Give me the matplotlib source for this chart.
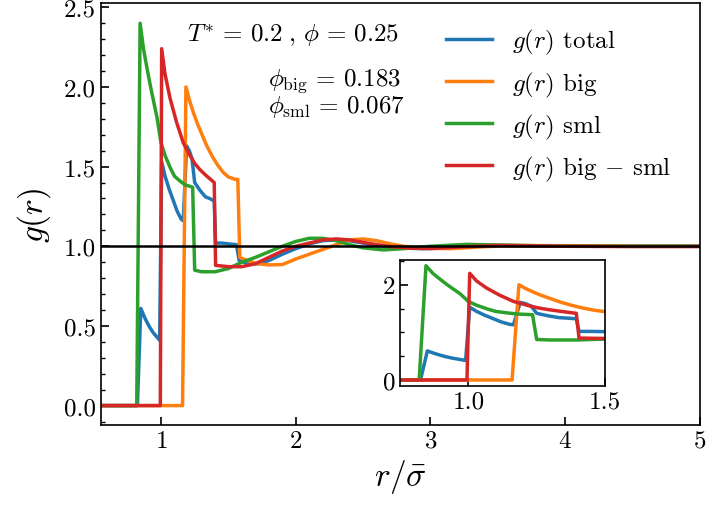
import matplotlib
matplotlib.use('Agg')
import matplotlib.pyplot as plt
from matplotlib.ticker import MultipleLocator, FormatStrFormatter

plt.rcParams['font.family'] = 'serif'
plt.rcParams['font.serif'] = ['cmr10']
plt.rcParams['mathtext.fontset'] = 'cm'
plt.rcParams['axes.formatter.use_mathtext'] = True

# g(r) curves
r_total = [0.55, 0.825, 0.85, 0.88, 0.91, 0.94, 0.97, 0.99, 1.005, 1.03, 1.06, 1.09, 1.12,
           1.15, 1.165, 1.19, 1.21, 1.23, 1.25, 1.29, 1.33, 1.36, 1.395, 1.405, 1.45, 1.50,
           1.56, 1.58, 1.65, 1.72, 1.80, 1.90, 2.0, 2.1, 2.2, 2.3, 2.4, 2.5, 2.6, 2.75, 2.95,
           3.1, 3.3, 3.5, 4.0, 4.5, 5.0]
g_total = [0.0, 0.0, 0.61, 0.55, 0.50, 0.46, 0.43, 0.41, 1.53, 1.44, 1.36, 1.29, 1.22,
           1.17, 1.16, 1.63, 1.60, 1.55, 1.40, 1.35, 1.31, 1.30, 1.285, 1.02, 1.02, 1.015,
           1.01, 0.91, 0.89, 0.89, 0.91, 0.95, 0.985, 1.015, 1.035, 1.04, 1.035, 1.02, 1.005,
           0.99, 0.985, 0.99, 1.003, 1.005, 1.0, 1.0, 1.0]

r_big = [0.55, 1.16, 1.185, 1.21, 1.24, 1.27, 1.30, 1.34, 1.38, 1.42, 1.46, 1.50, 1.55,
         1.57, 1.585, 1.64, 1.72, 1.80, 1.90, 2.0, 2.1, 2.2, 2.3, 2.4, 2.5, 2.6, 2.7, 2.8,
         2.95, 3.15, 3.35, 3.6, 4.0, 4.5, 5.0]
g_big = [0.0, 0.0, 2.0, 1.92, 1.84, 1.77, 1.71, 1.63, 1.565, 1.51, 1.465, 1.435, 1.42,
         1.42, 0.93, 0.91, 0.89, 0.883, 0.885, 0.92, 0.95, 0.98, 1.01, 1.04, 1.046, 1.035,
         1.015, 1.0, 0.988, 0.985, 0.995, 1.005, 1.003, 1.0, 1.0]

r_sml = [0.55, 0.82, 0.845, 0.87, 0.90, 0.93, 0.97, 1.00, 1.03, 1.07, 1.10, 1.14, 1.18,
         1.22, 1.235, 1.25, 1.30, 1.40, 1.50, 1.60, 1.70, 1.80, 1.90, 2.0, 2.1, 2.2, 2.3,
         2.4, 2.5, 2.65, 2.8, 3.0, 3.27, 3.5, 4.0, 4.5, 5.0]
g_sml = [0.0, 0.0, 2.40, 2.24, 2.10, 1.97, 1.81, 1.65, 1.57, 1.49, 1.44, 1.41, 1.385,
         1.375, 1.37, 0.85, 0.84, 0.84, 0.86, 0.90, 0.93, 0.965, 1.0, 1.03, 1.05, 1.05, 1.035,
         1.01, 0.99, 0.977, 0.985, 1.0, 1.012, 1.008, 1.0, 1.0, 1.0]

r_bs = [0.55, 0.995, 1.005, 1.03, 1.067, 1.115, 1.165, 1.215, 1.25, 1.29, 1.34, 1.395,
        1.405, 1.5, 1.6, 1.7, 1.8, 1.9, 2.0, 2.1, 2.2, 2.3, 2.4, 2.5, 2.6, 2.7, 2.85, 3.0,
        3.2, 3.5, 4.0, 4.5, 5.0]
g_bs = [0.0, 0.0, 2.24, 2.08, 1.93, 1.78, 1.65, 1.57, 1.52, 1.48, 1.44, 1.40,
        0.88, 0.872, 0.872, 0.89, 0.93, 0.97, 1.0, 1.02, 1.04, 1.046, 1.04, 1.025, 1.01,
        0.998, 0.988, 0.985, 0.995, 1.005, 1.0, 0.998, 0.998]

series = [
    (r_total, g_total, 'tab:blue', r'$g(r)$ total'),
    (r_big, g_big, 'tab:orange', r'$g(r)$ big'),
    (r_sml, g_sml, 'tab:green', r'$g(r)$ sml'),
    (r_bs, g_bs, 'tab:red', r'$g(r)$ big $-$ sml'),
]

fig = plt.figure(figsize=(7.08, 5.06), dpi=100)
ax = fig.add_axes([0.1427, 0.1587, 0.8460, 0.8328])

for r, g, c, lab in series:
    ax.plot(r, g, color=c, lw=2.5, label=lab)
ax.axhline(1.0, color='black', lw=1.8, zorder=5)

ax.set_xlim(0.555, 5)
ax.set_ylim(-0.12, 2.525)
ax.xaxis.set_major_locator(MultipleLocator(1))
ax.yaxis.set_major_locator(MultipleLocator(0.5))
ax.yaxis.set_minor_locator(MultipleLocator(0.1))
ax.yaxis.set_major_formatter(FormatStrFormatter('%.1f'))
ax.tick_params(direction='in', labelsize=18, width=1.2, length=6)
ax.tick_params(which='minor', direction='in', width=1.0, length=3)
for s in ax.spines.values():
    s.set_linewidth(1.2)

ax.set_xlabel(r'$r/\bar{\sigma}$', fontsize=24, labelpad=4)
ax.set_ylabel(r'$g(r)$', fontsize=24, labelpad=8)

ax.text(0.1436, 0.911, r'$T^{*}\, =\, 0.2\;,\,\phi\, =\, 0.25$', transform=ax.transAxes,
        fontsize=18, va='baseline', ha='left')
ax.text(0.2788, 0.806, r'$\phi_{\rm big}\, =\, 0.183$', transform=ax.transAxes,
        fontsize=18, va='baseline', ha='left')
ax.text(0.2788, 0.741, r'$\phi_{\rm sml}\, =\, 0.067$', transform=ax.transAxes,
        fontsize=18, va='baseline', ha='left')

ax.legend(loc='upper left', bbox_to_anchor=(0.576, 0.943), frameon=False, fontsize=18,
          borderpad=0, borderaxespad=0, handlelength=1.84, handletextpad=0.8,
          labelspacing=0.52)

# inset zoom on the contact region
axin = fig.add_axes([0.565, 0.2358, 0.2895, 0.2484])
for r, g, c, lab in series:
    axin.plot(r, g, color=c, lw=2.5)
axin.set_xlim(0.75, 1.5)
axin.set_ylim(-0.12, 2.52)
axin.set_xticks([1.0, 1.5])
axin.xaxis.set_major_formatter(FormatStrFormatter('%.1f'))
axin.set_yticks([0, 2])
axin.yaxis.set_minor_locator(MultipleLocator(0.5))
axin.tick_params(direction='in', labelsize=18, width=1.2, length=6)
axin.tick_params(which='minor', direction='in', width=1.0, length=3)
for s in axin.spines.values():
    s.set_linewidth(1.2)

fig.savefig('out.png', dpi=100)
